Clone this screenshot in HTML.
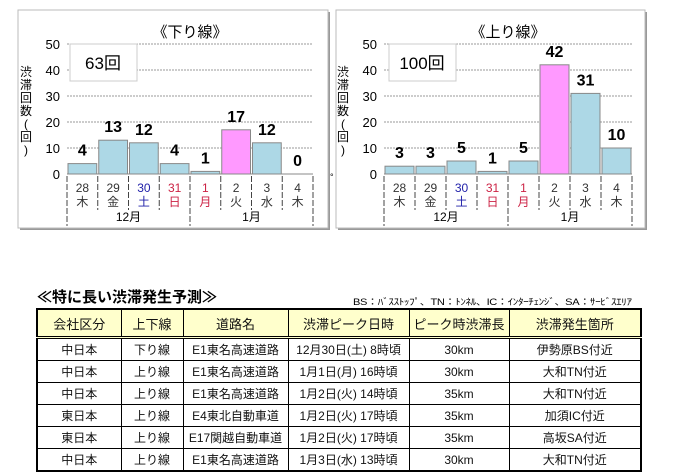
<!DOCTYPE html>
<html><head><meta charset="utf-8">
<style>
body{margin:0;width:680px;height:474px;background:#fff;overflow:hidden;font-family:"Liberation Sans","Noto Sans CJK JP",sans-serif;position:relative}
svg text{font-family:"Liberation Sans","Noto Sans CJK JP",sans-serif}
#t{position:absolute;left:36px;top:308px;border-collapse:collapse;border:2px solid #000}
#t td{border:1px solid #000;text-align:center;font-size:12px;height:21px;padding:0;color:#111}
#t tr.h td{background:#ffffcc;height:26px;font-size:13px;border-bottom:3px double #000}
</style></head><body>
<svg id="s" width="680" height="300" style="position:absolute;left:0;top:0"></svg>
<div style="position:absolute;left:37px;top:286px;font-size:15px;font-weight:bold">≪特に長い渋滞発生予測≫</div>
<div style="position:absolute;left:353px;top:295px;font-size:9px;letter-spacing:-0.3px;white-space:nowrap;transform:scaleX(1.23);transform-origin:0 0">BS：ﾊﾞｽｽﾄｯﾌﾟ、TN：ﾄﾝﾈﾙ、IC：ｲﾝﾀｰﾁｪﾝｼﾞ、SA：ｻｰﾋﾞｽｴﾘｱ</div>
<table id="t">
<colgroup><col style="width:84px"><col style="width:62px"><col style="width:105px"><col style="width:121px"><col style="width:100px"><col style="width:132px"></colgroup>
<tr class="h"><td>会社区分</td><td>上下線</td><td>道路名</td><td>渋滞ピーク日時</td><td>ピーク時渋滞長</td><td>渋滞発生箇所</td></tr>
<tr><td>中日本</td><td>下り線</td><td>E1東名高速道路</td><td>12月30日(土) 8時頃</td><td>30km</td><td>伊勢原BS付近</td></tr>
<tr><td>中日本</td><td>上り線</td><td>E1東名高速道路</td><td>1月1日(月) 16時頃</td><td>30km</td><td>大和TN付近</td></tr>
<tr><td>中日本</td><td>上り線</td><td>E1東名高速道路</td><td>1月2日(火) 14時頃</td><td>35km</td><td>大和TN付近</td></tr>
<tr><td>東日本</td><td>上り線</td><td>E4東北自動車道</td><td>1月2日(火) 17時頃</td><td>35km</td><td>加須IC付近</td></tr>
<tr><td>東日本</td><td>上り線</td><td>E17関越自動車道</td><td>1月2日(火) 17時頃</td><td>35km</td><td>高坂SA付近</td></tr>
<tr><td>中日本</td><td>上り線</td><td>E1東名高速道路</td><td>1月3日(水) 13時頃</td><td>30km</td><td>大和TN付近</td></tr>
</table>
<script>
var s='';
function chart(bx,bw,px,pw,title,total,vals,tbx){
 s+='<rect x="'+(bx+2)+'" y="12" width="'+bw+'" height="218" fill="#999"/>';
 s+='<rect x="'+bx+'" y="10" width="'+bw+'" height="218" fill="#fff" stroke="#bbb"/>';
 s+='<text x="'+(px+pw/2)+'" y="37" font-size="15" text-anchor="middle">《'+title+'》</text>';
 for(var i=0;i<=5;i++){var y=174-i*26;
  if(i>0)s+='<line x1="'+px+'" x2="'+(px+pw)+'" y1="'+y+'" y2="'+y+'" stroke="#999" stroke-dasharray="2,1"/>';
  s+='<text x="'+(px-7)+'" y="'+(y+5)+'" font-size="13" text-anchor="end">'+(i*10)+'</text>';}
 s+='<line x1="'+px+'" x2="'+(px+pw)+'" y1="174" y2="174" stroke="#888"/>';
 s+='<rect x="'+tbx+'" y="44" width="67" height="37" fill="#fff" stroke="#ccc"/>';
 s+='<text x="'+(tbx+33)+'" y="69" font-size="17" text-anchor="middle">'+total+'</text>';
 var yt=['渋','滞','回','数','(','回',')'];
 for(var i=0;i<7;i++)s+='<text x="'+(px-41)+'" y="'+(76+i*13)+'" font-size="12" text-anchor="middle">'+yt[i]+'</text>';
 var cw=pw/8,d=['28','29','30','31','1','2','3','4'],w=['木','金','土','日','月','火','水','木'],
 c=['#333','#333','#2222aa','#cc2244','#cc2244','#333','#333','#333'];
 for(var i=0;i<8;i++){var x=px+i*cw,v=vals[i],h=v*2.6;
  s+='<rect x="'+(x+1)+'" y="'+(174-h)+'" width="'+(cw-2)+'" height="'+h+'" fill="'+(i==5?'#ff99ff':'#add8e6')+'" stroke="#888"/>';
  s+='<text x="'+(x+cw/2)+'" y="'+(174-h-8)+'" font-size="16" font-weight="bold" text-anchor="middle">'+v+'</text>';
  s+='<text x="'+(x+cw/2)+'" y="192" font-size="12" fill="'+c[i]+'" text-anchor="middle">'+d[i]+'</text>';
  s+='<text x="'+(x+cw/2)+'" y="206" font-size="12" fill="'+c[i]+'" text-anchor="middle">'+w[i]+'</text>';}
 for(var i=0;i<=8;i++){var x=px+i*cw,e=(i==0||i==4||i==8)?226:210;
  s+='<line x1="'+x+'" x2="'+x+'" y1="176" y2="'+e+'" stroke="#444" stroke-dasharray="6,2"/>';}
 s+='<text x="'+(px+2*cw)+'" y="221" font-size="12" text-anchor="middle">12月</text>';
 s+='<text x="'+(px+6*cw)+'" y="221" font-size="12" text-anchor="middle">1月</text>';
}
chart(18,310,67,246,'下り線','63回',[4,13,12,4,1,17,12,0],70);
chart(336,309,384,248,'上り線','100回',[3,3,5,1,5,42,31,10],389);
s+='<text x="330" y="180" font-size="9">°</text>';
document.getElementById('s').innerHTML=s;
</script>
</body></html>
